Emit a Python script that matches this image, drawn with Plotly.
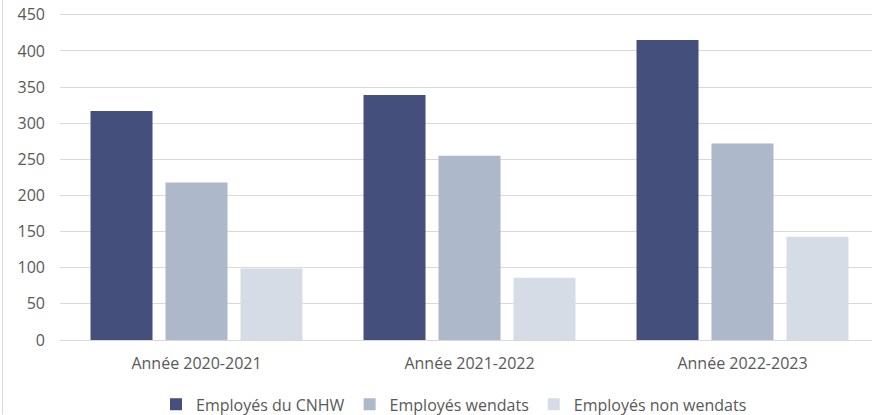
import plotly.graph_objects as go

categories = ["Année 2020-2021", "Année 2021-2022", "Année 2022-2023"]
series_names = ["Employés du CNHW", "Employés wendats", "Employés non wendats"]
cnhw = [317, 339, 415]
wendats = [218, 255, 272]
non_wendats = [99, 86, 143]
y_ticks = [0, 50, 100, 150, 200, 250, 300, 350, 400, 450]

colors = ["#444f7c", "#adb8ca", "#d6dce5"]
values = [cnhw, wendats, non_wendats]

fig = go.Figure()
for name, vals, col in zip(series_names, values, colors):
    fig.add_trace(go.Bar(
        x=categories, y=vals, name=name,
        marker=dict(color=col, line=dict(width=0)),
    ))

W, H = 872, 415
y_zero_px, y_450_px = 340.5, 15.0
px_per_unit = (y_zero_px - y_450_px) / 450
y_top = 452.5
ml, mr = 60, 0
mt = y_450_px - (y_top - 450) * px_per_unit
bottom = y_zero_px
mb = H - bottom
plot_w = W - ml - mr
plot_h = H - mt - mb
cat_px = 273
x_end = -0.5 + plot_w / cat_px

def px_x(x):
    return (x - ml) / plot_w

def px_y(y):
    return (bottom - y) / plot_h

fig.update_layout(
    width=W, height=H,
    margin=dict(l=ml, r=mr, t=mt, b=mb, pad=0, autoexpand=False),
    paper_bgcolor="white", plot_bgcolor="white",
    font=dict(family="Open Sans", size=16, color="#595959"),
    barmode="group", bargap=0.176, bargroupgap=0.173,
    showlegend=True,
    legend=dict(
        orientation="h", x=px_x(454), xanchor="center",
        y=px_y(405), yanchor="middle",
        font=dict(size=16, color="#595959"),
        itemwidth=30, traceorder="normal",
    ),
    xaxis=dict(
        type="category", range=[-0.5, x_end], showgrid=False,
        showline=False, ticks="", ticklabelstandoff=12, automargin=False,
        tickfont=dict(size=16, color="#595959"),
    ),
    yaxis=dict(
        range=[0, y_top], tickvals=y_ticks, showgrid=True,
        gridcolor="#d9d9d9", gridwidth=1, zeroline=True,
        zerolinecolor="#d9d9d9", zerolinewidth=1, showline=False,
        ticks="", ticklabelstandoff=14, automargin=False,
        ticklabeloverflow="allow",
        tickfont=dict(size=16, color="#595959"),
    ),
    shapes=[dict(
        type="line", xref="paper", yref="paper",
        x0=px_x(2.5), x1=px_x(2.5), y0=px_y(H), y1=px_y(0),
        line=dict(color="#d9d9d9", width=1),
    )],
)

fig.write_html(
    "out.html",
    config={"displayModeBar": False},
    post_script="document.body.style.margin='0';document.body.style.overflow='hidden';",
)
